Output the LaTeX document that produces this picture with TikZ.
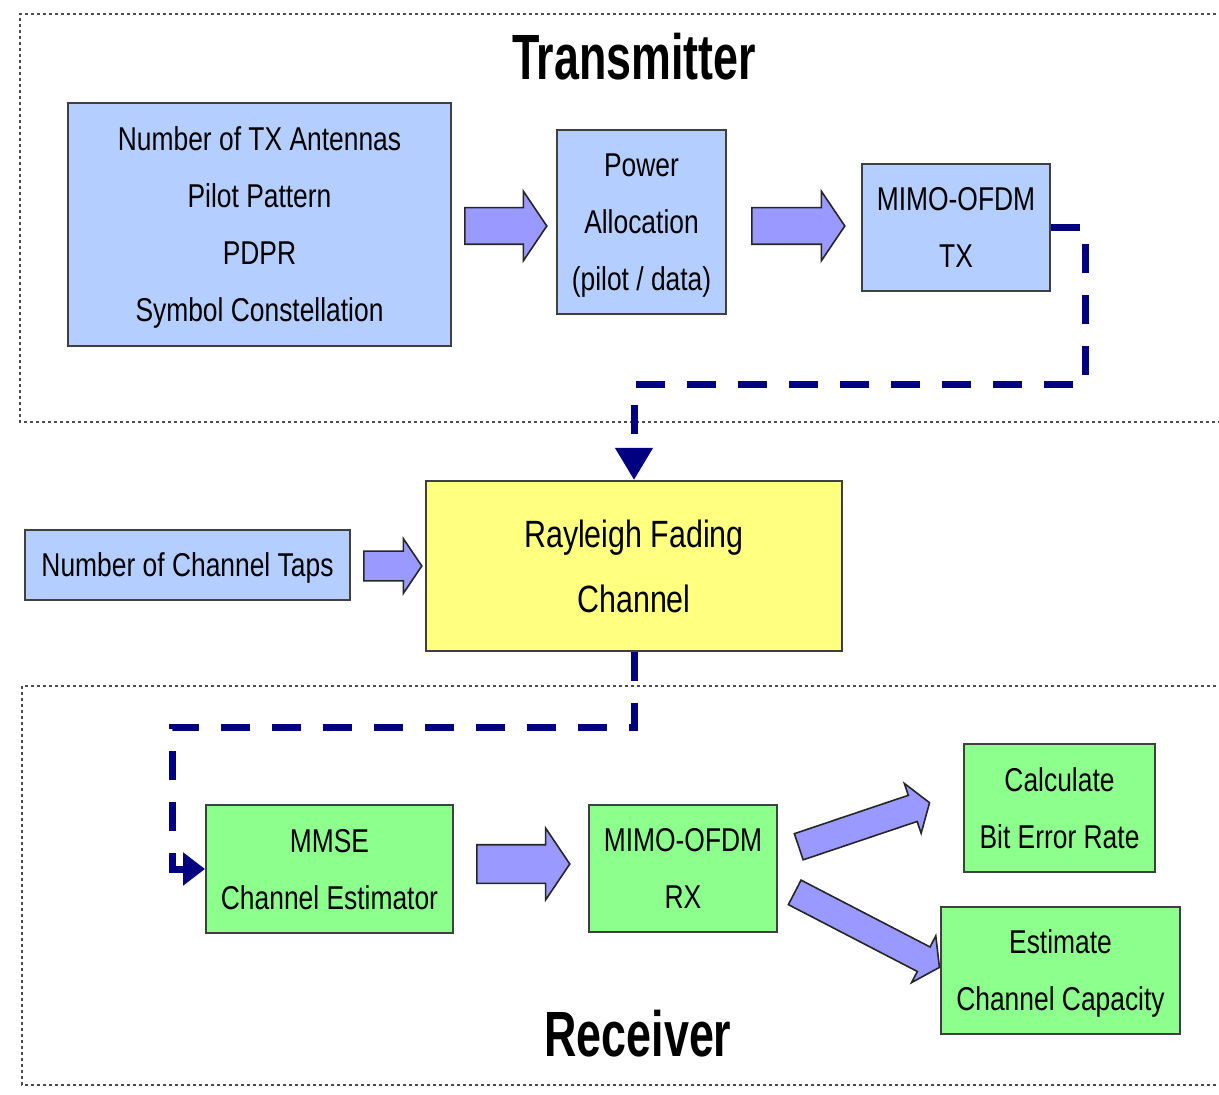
\documentclass[tikz,border=0pt]{standalone}
\usepackage{fontspec}
\setmainfont{Liberation Sans}[FakeStretch=0.8]
\newfontfamily\titlefont{Liberation Sans}[FakeStretch=0.7]
\usepackage{tikz}
\usetikzlibrary{shapes.arrows,arrows.meta}

\definecolor{txblue}{RGB}{180,206,255}
\definecolor{chyellow}{RGB}{255,255,128}
\definecolor{rxgreen}{RGB}{140,255,140}
\definecolor{arrowfill}{RGB}{153,153,255}
\definecolor{linknavy}{RGB}{0,0,128}

\tikzset{
  blk/.style={draw=black!75, line width=1pt, align=center, inner sep=0pt,
    text depth=0pt, font=\fontsize{16.5}{28.5}\selectfont},
  txblk/.style={blk, fill=txblue},
  rxblk/.style={blk, fill=rxgreen},
  bigarrow/.style={single arrow, draw=black!85, line width=0.8pt, fill=arrowfill,
    anchor=tail, inner xsep=0pt, inner ysep=8.75pt, minimum width=0pt,
    single arrow head extend=8.25pt, single arrow tip angle=112,
    single arrow head indent=0pt},
  thinarrow/.style={bigarrow, inner ysep=6.5pt, single arrow head extend=6.25pt},
  link/.style={draw=linknavy, line width=3.5pt, dash pattern=on 14.5pt off 11pt},
  frame/.style={draw=black!70, line width=0.8pt, dash pattern=on 1.5pt off 1.5pt},
  title/.style={font=\titlefont\bfseries\fontsize{32}{36}\selectfont}
}

\begin{document}
\begin{tikzpicture}[x=0.5pt, y=-0.5pt]
  \clip (0,0) rectangle (1219,1095);
  \fill[white] (0,0) rectangle (1219,1095);

  % frames
  \draw[frame] (1240,14) -- (20,14) -- (20,422) -- (1240,422);
  \draw[frame] (1240,686) -- (22,686) -- (22,1085) -- (1240,1085);
  \node[title] (txtitle) at (634,57) {Transmitter};
  \node[title] (rxtitle) at (638,1034) {Receiver};

  % transmitter
  \node[txblk, minimum width=191.5pt, minimum height=121.5pt] (params) at (259.5,224.5)
    {Number of TX Antennas\\Pilot Pattern\\PDPR\\Symbol Constellation};
  \node[txblk, minimum width=84.5pt, minimum height=92pt] (power) at (641.5,222)
    {Power\\Allocation\\(pilot / data)};
  \node[txblk, minimum width=94pt, minimum height=63.5pt] (tx) at (956,227.5)
    {MIMO-OFDM\\TX};
  \node[bigarrow, minimum height=41pt] (a1) at ([xshift=6pt,yshift=-0.75pt]params.east) {};
  \node[bigarrow, minimum height=46.5pt] (a2) at ([xshift=12pt,yshift=-2pt]power.east) {};

  % channel
  \node[blk, fill=chyellow, minimum width=208pt, minimum height=85pt, text depth=,
    font=\fontsize{19}{32.5}\selectfont] (channel) at (634,566)
    {Rayleigh Fading\\Channel};
  \node[txblk, minimum width=162.5pt, minimum height=35pt] (taps) at (187.5,565)
    {Number of Channel Taps};
  \node[thinarrow, minimum height=29pt, inner ysep=7pt] (a3) at ([xshift=6pt,yshift=-0.5pt]taps.east) {};

  % receiver
  \node[rxblk, minimum width=123.5pt, minimum height=64pt] (mmse) at (329.5,869)
    {MMSE\\Channel Estimator};
  \node[rxblk, minimum width=94pt, minimum height=63.5pt] (rx) at (683,868.5)
    {MIMO-OFDM\\RX};
  \node[rxblk, minimum width=95.5pt, minimum height=64pt] (ber) at (1059.5,808)
    {Calculate\\Bit Error Rate};
  \node[rxblk, minimum width=119.5pt, minimum height=63.5pt] (cap) at (1060.5,970.5)
    {Estimate\\Channel Capacity};
  \node[bigarrow, minimum height=46.5pt, inner ysep=9.25pt] (a4) at ([xshift=11pt,yshift=2.5pt]mmse.east) {};
  \node[thinarrow, minimum height=69pt, rotate=18.6] (a5) at ([xshift=10pt,yshift=10.75pt]rx.east) {};
  \node[thinarrow, minimum height=81.5pt, rotate=-27.4] (a6) at ([xshift=8pt,yshift=-11.75pt]rx.east) {};

  % signal path
  \coordinate (c1) at (1085,385);
  \coordinate (c2) at (172,727);
  \draw[link, -{Triangle[width=18pt,length=16pt]}] (tx.east) -| (c1) -| (channel.north);
  \draw[link, -{Triangle[width=16pt,length=11pt]}] (channel.south) |- (c2) |- (mmse.west);
\end{tikzpicture}
\end{document}
